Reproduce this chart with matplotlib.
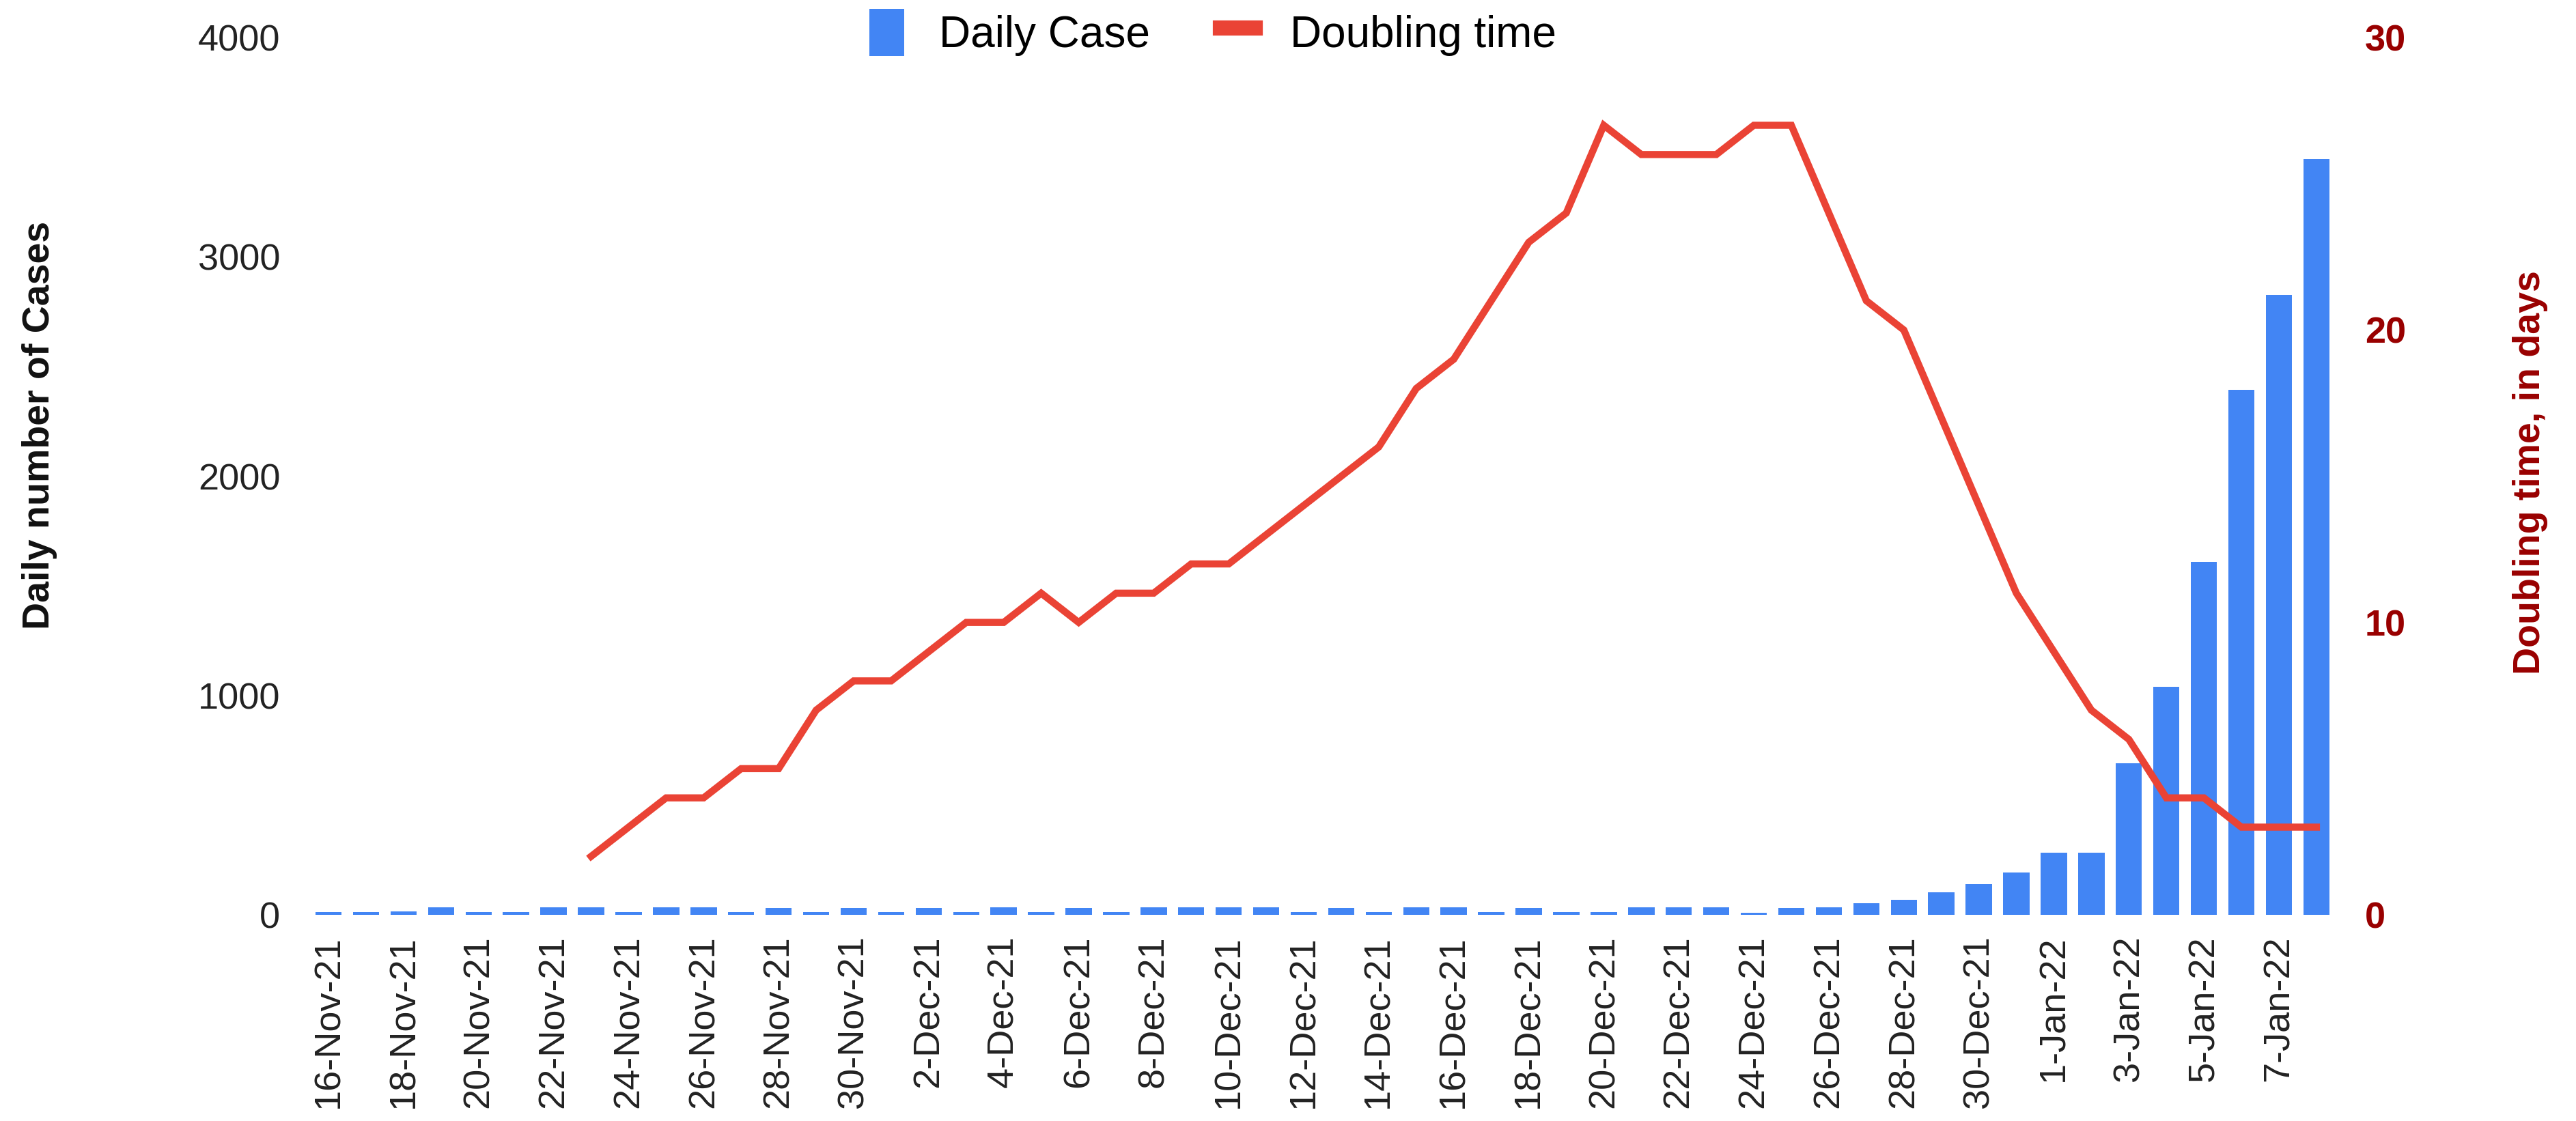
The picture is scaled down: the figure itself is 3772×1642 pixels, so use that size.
import matplotlib
matplotlib.use("Agg")
import matplotlib.pyplot as plt
import numpy as np
from matplotlib.patches import Patch
from matplotlib.lines import Line2D

plt.rcParams['font.family'] = ['Liberation Sans', 'DejaVu Sans']

dates = ["16-Nov-21", "17-Nov-21", "18-Nov-21", "19-Nov-21", "20-Nov-21", "21-Nov-21",
         "22-Nov-21", "23-Nov-21", "24-Nov-21", "25-Nov-21", "26-Nov-21", "27-Nov-21",
         "28-Nov-21", "29-Nov-21", "30-Nov-21", "1-Dec-21", "2-Dec-21", "3-Dec-21",
         "4-Dec-21", "5-Dec-21", "6-Dec-21", "7-Dec-21", "8-Dec-21", "9-Dec-21",
         "10-Dec-21", "11-Dec-21", "12-Dec-21", "13-Dec-21", "14-Dec-21", "15-Dec-21",
         "16-Dec-21", "17-Dec-21", "18-Dec-21", "19-Dec-21", "20-Dec-21", "21-Dec-21",
         "22-Dec-21", "23-Dec-21", "24-Dec-21", "25-Dec-21", "26-Dec-21", "27-Dec-21",
         "28-Dec-21", "29-Dec-21", "30-Dec-21", "31-Dec-21", "1-Jan-22", "2-Jan-22",
         "3-Jan-22", "4-Jan-22", "5-Jan-22", "6-Jan-22", "7-Jan-22", "8-Jan-22"]

daily_cases = [14, 14, 15, 34, 14, 14, 33, 33, 12, 33, 33, 14,
               32, 12, 32, 14, 32, 14, 33, 14, 32, 14, 33, 33,
               33, 33, 14, 32, 12, 33, 33, 14, 32, 12, 14, 33,
               34, 33, 10, 32, 35, 52, 68, 102, 141, 192, 283, 283,
               690, 1040, 1610, 2395, 2825, 3445]

doubling_time = [np.nan] * 7 + [2, 3, 4, 4, 5, 5, 7, 8, 8, 9, 10, 10, 11, 10, 11, 11,
                                12, 12, 13, 14, 15, 16, 18, 19, 21, 23, 24, 27, 26, 26,
                                26, 27, 27, 24, 21, 20, 17, 14, 11, 9, 7, 6, 4, 4, 3, 3, 3]

left_ticks = [0, 1000, 2000, 3000, 4000]
right_ticks = [0, 10, 20, 30]

blue = '#4285F4'
red = '#EA4335'
dark_red = '#990000'

fig = plt.figure(figsize=(37.73, 16.42), dpi=100)
ax = fig.add_axes([0.1198, 0.1839, 0.9067 - 0.1198, 0.9665 - 0.1839])
x = np.arange(len(dates))
ax.bar(x, daily_cases, width=0.7, color=blue, zorder=2)
ax.set_ylim(0, 4000)
ax.set_yticks(left_ticks)
ax.set_yticklabels([str(t) for t in left_ticks], fontsize=39, color='#222222')
ax.set_xlim(-0.53, 53.53)
ax.set_xticks(x[::2])
ax.set_xticklabels(dates[::2], rotation=90, fontsize=39, color='#222222')
ax.tick_params(axis='both', length=0)
ax.tick_params(axis='x', pad=22)
ax.tick_params(axis='y', pad=30)
for s in ax.spines.values():
    s.set_visible(False)

ax2 = ax.twinx()
ax2.plot(x, doubling_time, color=red, lw=7.5, solid_joinstyle='miter', zorder=3)
ax2.set_ylim(0, 30)
ax2.set_yticks(right_ticks)
ax2.set_yticklabels([str(t) for t in right_ticks], fontsize=39, color=dark_red, fontweight='bold')
ax2.tick_params(axis='y', length=0, pad=30)
for s in ax2.spines.values():
    s.set_visible(False)

fig.text(0.0153, 0.6206, "Daily number of Cases", rotation=90, ha='center', va='center',
         fontsize=40, fontweight='bold', color='#111111')
fig.text(0.982, 0.5786, "Doubling time, in days", rotation=90, ha='center', va='center',
         fontsize=40, fontweight='bold', color=dark_red)

handles = [Patch(facecolor=blue, edgecolor='none', label='Daily Case'),
           Line2D([0], [0], color=red, lw=16, label='Doubling time')]
fig.legend(handles=handles, loc='center', bbox_to_anchor=(0.4707, 0.971), ncol=2,
           frameon=False, fontsize=46, handlelength=0.8, handleheight=1.3,
           columnspacing=1.6, handletextpad=0.8)

fig.savefig("out.png", dpi=100)
